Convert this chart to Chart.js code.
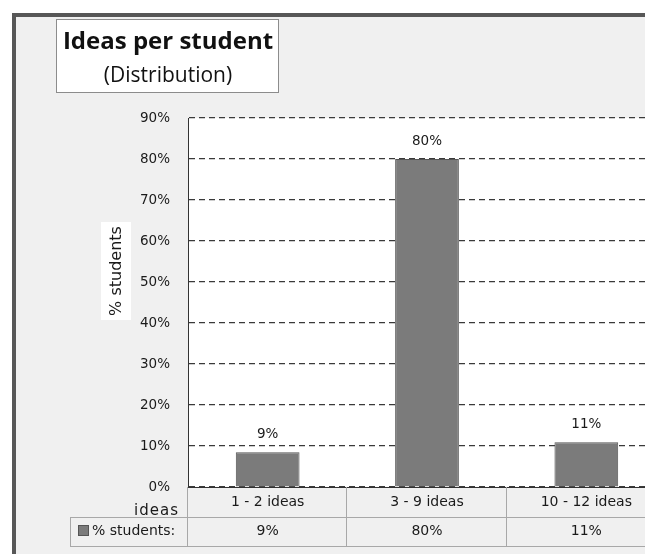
<!DOCTYPE html>
<html>
<head>
<meta charset="utf-8">
<script src="https://cdn.jsdelivr.net/npm/chart.js@4/dist/chart.umd.min.js"></script>
<style>
  html, body { margin: 0; padding: 0; background: #fff; overflow: hidden; width: 645px; height: 554px; }
  #c { display: block; }
</style>
</head>
<body>
<canvas id="c" width="680" height="554" style="width:680px;height:554px"></canvas>
<script>
// ---- data ----
const categories = ['1 - 2 ideas', '3 - 9 ideas', '10 - 12 ideas'];
const studentShares = [8.5, 80.0, 10.9];          // % of students (bar heights)
const shareLabels = ['9%', '80%', '11%'];          // labels printed on the chart / table
const yTicks = [0, 10, 20, 30, 40, 50, 60, 70, 80, 90];
const titleMain = 'Ideas per student';
const titleSub = '(Distribution)';
const yTitle = '% students';
const xTitle = 'ideas';
const seriesName = '% students:';

const FONT = '"DejaVu Sans", sans-serif';
const TXT = '#1a1a1a';

const decor = {
  id: 'decor',
  beforeDraw(chart) {
    const { ctx, chartArea: a } = chart;
    ctx.save();
    ctx.fillStyle = '#ffffff';
    ctx.fillRect(0, 0, chart.width, chart.height);
    // outer chart frame
    ctx.fillStyle = '#575757';
    ctx.fillRect(12, 13, chart.width, chart.height);
    ctx.fillStyle = '#f0f0f0';
    ctx.fillRect(16, 17, chart.width, chart.height);
    // plot area
    ctx.fillStyle = '#ffffff';
    ctx.fillRect(a.left, a.top, a.right - a.left, a.bottom - a.top);
    // title box
    ctx.fillStyle = '#ffffff';
    ctx.fillRect(56.5, 19.5, 222, 73);
    ctx.strokeStyle = '#8c8c8c';
    ctx.lineWidth = 1;
    ctx.strokeRect(56.5, 19.5, 222, 73);
    // y-title box
    ctx.fillStyle = '#ffffff';
    ctx.fillRect(101, 222, 30, 98);
    ctx.restore();
  },
  afterDraw(chart) {
    const { ctx } = chart;
    const x = chart.scales.x;
    const a = chart.chartArea;
    const n = categories.length;
    ctx.save();
    // title
    ctx.fillStyle = '#111';
    ctx.textAlign = 'center';
    ctx.textBaseline = 'alphabetic';
    ctx.font = 'bold 24px "Open Sans", sans-serif';
    ctx.fillText(titleMain, 168, 49);
    ctx.font = '21px "Open Sans", sans-serif';
    ctx.fillText(titleSub, 168, 82);

    // y axis title
    ctx.save();
    ctx.translate(117, 271);
    ctx.rotate(-Math.PI / 2);
    ctx.font = '16px ' + FONT;
    ctx.fillStyle = TXT;
    ctx.textAlign = 'center';
    ctx.textBaseline = 'middle';
    ctx.fillText(yTitle, 0, 0);
    ctx.restore();

    // data labels above bars
    const meta = chart.getDatasetMeta(0);
    ctx.font = '13.5px ' + FONT;
    ctx.fillStyle = TXT;
    ctx.textAlign = 'center';
    ctx.textBaseline = 'middle';
    meta.data.forEach((bar, i) => {
      ctx.fillText(shareLabels[i], bar.x, bar.y - 18);
    });

    // data table
    const row1Top = a.bottom, row1Bot = 517, row2Bot = 546;
    const tableLeft = 70;
    ctx.strokeStyle = '#a8a8a8';
    ctx.lineWidth = 1;
    ctx.beginPath();
    for (let i = 0; i <= n; i++) {
      const bx = Math.round(x.getPixelForValue(i - 0.5)) - 0.5;
      ctx.moveTo(bx, row1Top);
      ctx.lineTo(bx, row2Bot);
    }
    ctx.moveTo(a.left, row1Bot + 0.5); ctx.lineTo(chart.width, row1Bot + 0.5);
    ctx.moveTo(tableLeft, row1Bot + 0.5); ctx.lineTo(a.left, row1Bot + 0.5);
    ctx.moveTo(tableLeft, row2Bot + 0.5); ctx.lineTo(chart.width, row2Bot + 0.5);
    ctx.moveTo(tableLeft + 0.5, row1Bot); ctx.lineTo(tableLeft + 0.5, row2Bot);
    ctx.stroke();

    // values row
    ctx.font = '14px ' + FONT;
    ctx.fillStyle = TXT;
    ctx.textAlign = 'center';
    ctx.textBaseline = 'middle';
    for (let i = 0; i < n; i++) {
      ctx.fillText(shareLabels[i], x.getPixelForValue(i), 531);
    }
    // legend key and series name
    ctx.fillStyle = '#7b7b7b';
    ctx.fillRect(78, 525, 11, 11);
    ctx.strokeStyle = '#555';
    ctx.strokeRect(78.5, 525.5, 10, 10);
    ctx.fillStyle = TXT;
    ctx.textAlign = 'left';
    ctx.fillText(seriesName, 92, 531);

    // x title
    ctx.textAlign = 'right';
    ctx.font = '15px ' + FONT;
    ctx.letterSpacing = '1px';
    ctx.fillText(xTitle, 179, 511);
    ctx.letterSpacing = '0px';
    ctx.restore();
  }
};

new Chart(document.getElementById('c'), {
  type: 'bar',
  data: {
    labels: categories,
    datasets: [{
      label: seriesName,
      data: studentShares,
      backgroundColor: '#7b7b7b',
      borderColor: '#555555',
      borderWidth: 1,
      barPercentage: 0.4,
      categoryPercentage: 1.0
    }]
  },
  options: {
    responsive: false,
    animation: false,
    devicePixelRatio: 1,
    layout: { padding: { left: 100, top: 118, right: 14, bottom: 0 } },
    plugins: {
      legend: { display: false },
      title: { display: false },
      tooltip: { enabled: false }
    },
    scales: {
      x: {
        offset: true,
        grid: { display: false, drawTicks: false },
        border: { display: true, color: '#333333', width: 1 },
        ticks: { color: TXT, font: { family: FONT, size: 14 }, padding: 7, maxRotation: 0 },
        afterFit(s) { s.height = 67; }
      },
      y: {
        min: 0,
        max: 90,
        afterBuildTicks(s) { s.ticks = yTicks.map(v => ({ value: v })); },
        grid: { color: '#3a3a3a', lineWidth: 1.2, drawTicks: false },
        border: { display: true, color: '#333333', width: 1, dash: [6, 4] },
        ticks: {
          color: TXT,
          font: { family: FONT, size: 13.5 },
          padding: 18,
          callback: v => v + '%'
        },
        afterFit(s) { s.width = 88; }
      }
    }
  },
  plugins: [decor]
});
</script>
</body>
</html>
